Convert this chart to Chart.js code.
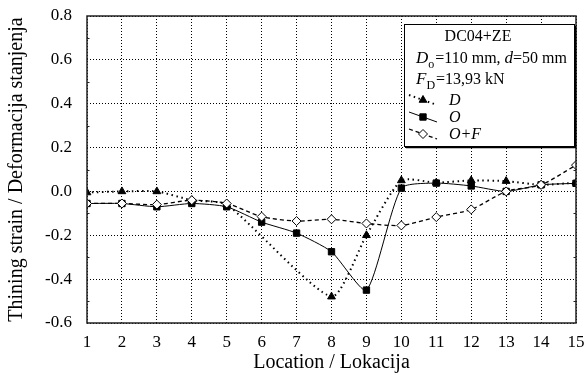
<!DOCTYPE html>
<html>
<head>
<meta charset="utf-8">
<script src="https://cdn.jsdelivr.net/npm/chart.js@4/dist/chart.umd.min.js"></script>
<style>
  html, body { margin: 0; padding: 0; background: #fff; }
</style>
</head>
<body>
<canvas id="chart" width="586" height="375"></canvas>
<script>
// values
const locations = [1, 2, 3, 4, 5, 6, 7, 8, 9, 10, 11, 12, 13, 14, 15];
const strainD = [-0.005, 0.0, 0.0, -0.04, -0.06, null, null, -0.48, -0.20, 0.05, 0.04, 0.05, 0.047, 0.03, 0.04];
const strainO = [-0.055, -0.055, -0.07, -0.055, -0.07, -0.14, -0.19, -0.275, -0.45, 0.015, 0.038, 0.025, 0.0, 0.03, 0.037];
const strainOF = [-0.055, -0.055, -0.06, -0.04, -0.055, -0.115, -0.135, -0.127, -0.146, -0.155, -0.117, -0.082, 0.0, 0.03, 0.12];
const yTicks = [-0.6, -0.4, -0.2, 0.0, 0.2, 0.4, 0.6, 0.8];
const seriesLabels = ['D', 'O', 'O+F'];
const boxTitle = 'DC04+ZE';

const serif = '"Liberation Serif", "Times New Roman", serif';

const toPoints = arr => locations.map((x, i) => ({ x, y: arr[i] }));

// small inward minor ticks + full frame around the plot
const frame = {
  id: 'frame',
  afterDatasetsDraw(chart) {
    const { ctx, chartArea: a, scales: { y } } = chart;
    ctx.save();
    ctx.strokeStyle = '#222';
    ctx.lineWidth = 1.5;
    ctx.setLineDash([]);
    ctx.strokeRect(a.left, a.top, a.right - a.left, a.bottom - a.top);
    ctx.lineWidth = 1;
    ctx.beginPath();
    for (let v = -5; v <= 7; v += 2) {
      const py = Math.round(y.getPixelForValue(v / 10)) + 0.5;
      ctx.moveTo(a.left, py); ctx.lineTo(a.left + 2.5, py);
      ctx.moveTo(a.right, py); ctx.lineTo(a.right - 2.5, py);
    }
    ctx.stroke();
    ctx.restore();
  }
};

// text box with parameters and the legend
const infoBox = {
  id: 'infoBox',
  afterDraw(chart) {
    const { ctx, chartArea: a } = chart;
    const bx = a.right - 172, by = a.top + 8, bw = 170, bh = 122;
    ctx.save();
    ctx.fillStyle = '#fff';
    ctx.fillRect(bx, by, bw, bh);
    ctx.strokeStyle = '#000';
    ctx.lineWidth = 1;
    ctx.strokeRect(bx + 0.5, by + 0.5, bw, bh);
    ctx.lineWidth = 1.5;
    ctx.beginPath();
    ctx.moveTo(bx + bw + 1.5, by + 2); ctx.lineTo(bx + bw + 1.5, by + bh + 1.5); ctx.lineTo(bx + 2, by + bh + 1.5);
    ctx.stroke();

    ctx.fillStyle = '#000';
    ctx.textBaseline = 'alphabetic';
    ctx.textAlign = 'center';
    ctx.font = `16px ${serif}`;
    ctx.fillText(boxTitle, bx + 74, by + 17);

    ctx.textAlign = 'left';
    const run = (parts, x0, y0) => {
      let cx = x0;
      parts.forEach(([t, style]) => {
        if (style === 'i') ctx.font = `italic 17px ${serif}`;
        else if (style === 'sub') ctx.font = `12px ${serif}`;
        else ctx.font = `16px ${serif}`;
        const dy = style === 'sub' ? 5 : 0;
        ctx.fillText(t, cx, y0 + dy);
        cx += ctx.measureText(t).width + (style === 'sub' ? 1 : 0);
      });
    };
    run([['D', 'i'], ['o', 'sub'], ['=110 mm, ', ''], ['d', 'i'], ['=50 mm', '']], bx + 12, by + 39);
    run([['F', 'i'], ['D', 'sub'], ['=13,93 kN', '']], bx + 12, by + 60);

    const rows = [by + 76, by + 93, by + 110];
    chart.data.datasets.forEach((ds, i) => {
      const cy = rows[i], x0 = bx + 5, x1 = bx + 33;
      ctx.save();
      ctx.strokeStyle = '#000';
      ctx.lineWidth = ds.borderWidth;
      ctx.setLineDash(ds.borderDash || []);
      ctx.beginPath();
      ctx.moveTo(x0, cy - 5); ctx.lineTo(x1, cy + 5);
      ctx.stroke();
      ctx.restore();
      ctx.save();
      ctx.fillStyle = ds.pointBackgroundColor;
      ctx.strokeStyle = '#000';
      ctx.lineWidth = 1;
      Chart.helpers.drawPoint(ctx, { pointStyle: ds.pointStyle, radius: ds.pointRadius, borderWidth: 1, rotation: 0 }, (x0 + x1) / 2, cy);
      ctx.restore();
      ctx.font = `italic 16px ${serif}`;
      ctx.fillStyle = '#000';
      ctx.fillText(seriesLabels[i], bx + 45, cy + 5);
    });
    ctx.restore();
  }
};

new Chart(document.getElementById('chart'), {
  type: 'line',
  data: {
    datasets: [
      {
        label: seriesLabels[0], data: toPoints(strainD), order: 3, spanGaps: true,
        borderColor: '#000', borderWidth: 2, borderDash: [1.5, 3.5], tension: 0.2,
        pointStyle: 'triangle', pointRadius: 4.5, pointBackgroundColor: '#000', pointBorderColor: '#000', pointBorderWidth: 1
      },
      {
        label: seriesLabels[1], data: toPoints(strainO), order: 2,
        borderColor: '#000', borderWidth: 1, borderDash: [], tension: 0.2,
        pointStyle: 'rect', pointRadius: 4.5, pointBackgroundColor: '#000', pointBorderColor: '#000', pointBorderWidth: 1
      },
      {
        label: seriesLabels[2], data: toPoints(strainOF), order: 1,
        borderColor: '#000', borderWidth: 1.3, borderDash: [4, 3], tension: 0.25,
        pointStyle: 'rectRot', pointRadius: 4.5, pointBackgroundColor: '#fff', pointBorderColor: '#000', pointBorderWidth: 1
      }
    ]
  },
  options: {
    responsive: false,
    animation: false,
    layout: { padding: { top: 16, right: 10, left: 0, bottom: 0 } },
    plugins: { legend: { display: false }, tooltip: { enabled: false } },
    scales: {
      x: {
        type: 'linear', min: 1, max: 15,
        afterBuildTicks: s => { s.ticks = locations.map(v => ({ value: v })); },
        afterFit: s => { s.height = 52; s.paddingLeft = 0; s.paddingRight = 0; },
        grid: { color: '#000', lineWidth: 1, drawTicks: false },
        border: { display: false, dash: [1, 2] },
        ticks: { color: '#000', font: { family: serif, size: 17 }, padding: 9, maxRotation: 0 },
        title: { display: true, text: 'Location / Lokacija', color: '#000', font: { family: serif, size: 20 }, padding: { top: 0, bottom: 0 } }
      },
      y: {
        min: -0.6, max: 0.8,
        afterBuildTicks: s => { s.ticks = yTicks.map(v => ({ value: v })); },
        afterFit: s => { s.width = 87; s.paddingTop = 0; s.paddingBottom = 0; },
        grid: { color: '#000', lineWidth: 1, drawTicks: false },
        border: { display: false, dash: [1, 2] },
        ticks: { color: '#000', font: { family: serif, size: 17 }, padding: 15, callback: v => v.toFixed(1) },
        title: { display: true, text: 'Thining strain / Deformacija stanjenja', color: '#000', font: { family: serif, size: 20 }, padding: { top: 5, bottom: 0 } }
      }
    }
  },
  plugins: [frame, infoBox]
});
</script>
</body>
</html>
